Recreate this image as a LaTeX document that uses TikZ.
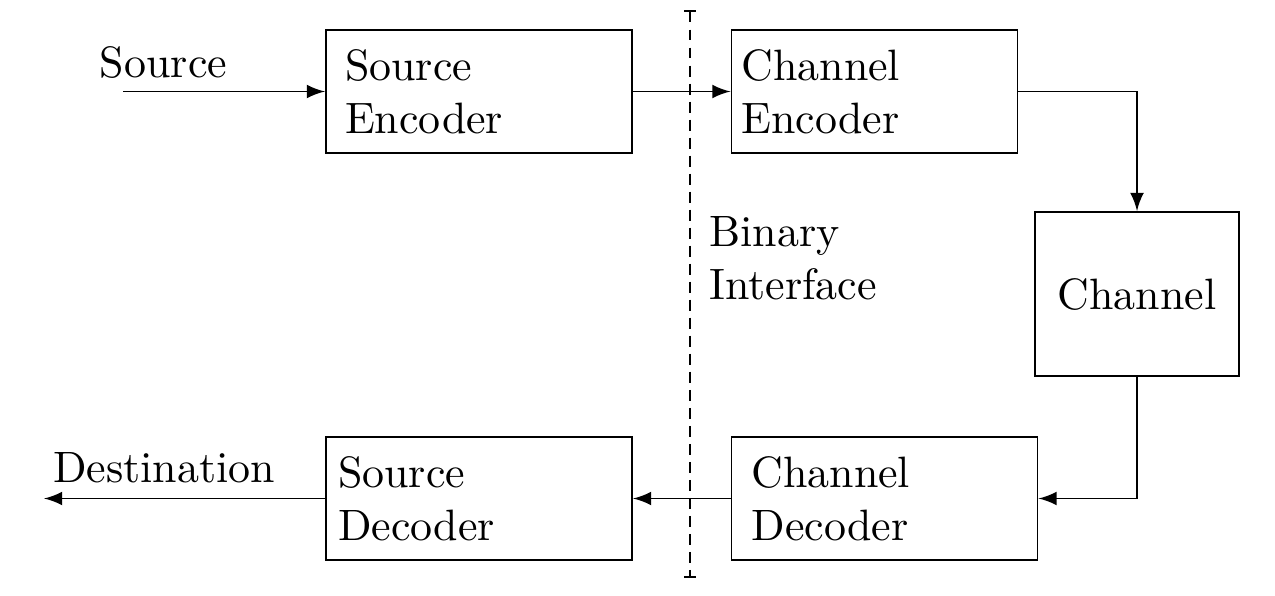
\documentclass[tikz,border=0pt]{standalone}
\usetikzlibrary{positioning,arrows.meta}

\begin{document}
\begin{tikzpicture}[>=latex, line width=0.45pt,
        block/.style={draw, align=left, minimum height=0.984cm},
        divider/.style={dash pattern=on 2.5pt off 1.6pt}]
        \useasboundingbox (0,0) rectangle (10.2,-4.76);
        \node[block, inner xsep=0.152cm, text width=2.144cm] (s_enc) at (3.832,-0.732) {Source\\Encoder};
        \node[block, inner xsep=0.08cm, text width=2.128cm] (c_enc) [right=0.78cm of s_enc] {Channel\\Encoder};
        \node[block, minimum width=1.632cm, minimum height=1.312cm] (chan) at (9.096,-2.352) {Channel};
        \node[block, inner xsep=0.096cm, text width=2.256cm] (s_dec) [below=2.256cm of s_enc] {Source\\Decoder};
        \node[block, inner xsep=0.16cm, text width=2.128cm] (c_dec) [right=0.78cm of s_dec] {Channel\\Decoder};
        \node[anchor=base] (src_lbl) at (1.308,-0.616) {Source};
        \node[anchor=base] (dst_lbl) at (1.312,-3.856) {Destination};
        \node[align=left, anchor=west] (iface) at (5.55,-2.064) {Binary\\Interface};
        \coordinate[left=1.616cm of s_enc.west] (src);
        \coordinate[left=2.248cm of s_dec.west] (dst);
        \coordinate (cut_top) at (5.52,-0.08);
        \coordinate (cut_bot) at (5.52,-4.624);
        \draw[{Bar[width=2.6pt]}-{Bar[width=2.6pt]}, divider] (cut_top) -- (cut_bot);
        \path[->]
            (src) edge (s_enc)
            (s_enc) edge (c_enc)
            (c_dec) edge (s_dec)
            (s_dec) edge (dst);
        \draw[->] (c_enc) -| (chan);
        \draw[->] (chan) |- (c_dec);
    \end{tikzpicture}
\end{document}
